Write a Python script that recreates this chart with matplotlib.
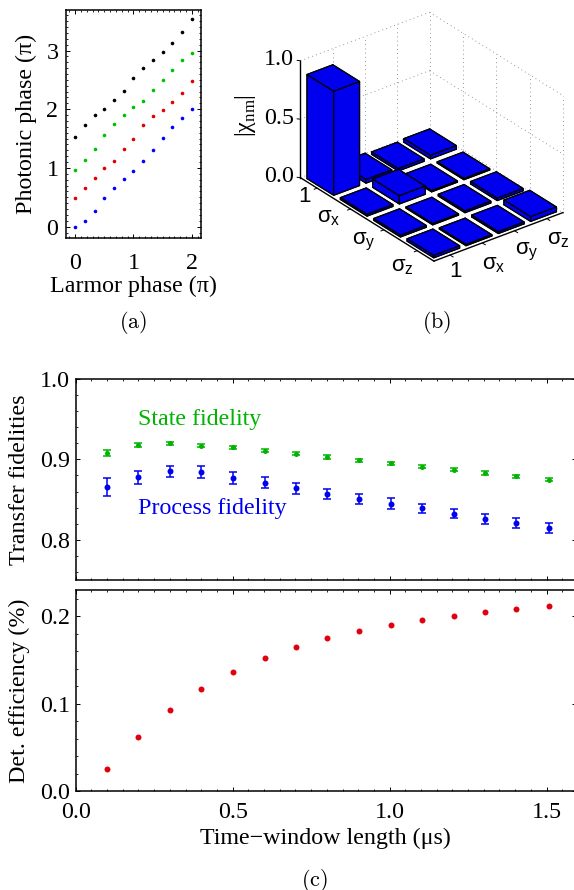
#!/usr/bin/env python3
"""Three-part figure: phase scan (a), process matrix bars (b), fidelity and efficiency vs time window (c)."""

import matplotlib
matplotlib.use('Agg')
import matplotlib.pyplot as plt
from matplotlib.ticker import MultipleLocator, FormatStrFormatter

plt.rcParams['font.family'] = ['Liberation Serif', 'DejaVu Sans']
plt.rcParams['mathtext.fontset'] = 'custom'
plt.rcParams['mathtext.rm'] = 'Liberation Serif'
plt.rcParams['mathtext.sf'] = 'Liberation Sans'

W, H = 574, 890
FS = 17.3
X_MAX = 1.5938   # right spine sits just past the image edge

# --- Panel (a) ---
larmor = [0, 1/6, 2/6, 3/6, 4/6, 5/6, 1, 7/6, 8/6, 9/6, 10/6, 11/6, 2]
phase_blue = [0, .10, .27, .49, .66, .81, .955, 1.12, 1.30, 1.505, 1.705, 1.85, 2.0]
phase_red = [.48, .66, .835, 1.0, 1.125, 1.32, 1.495, 1.73, 1.88, 1.995, 2.115, 2.285, 2.48]
phase_green = [.965, 1.13, 1.32, 1.555, 1.745, 1.91, 2.03, 2.14, 2.32, 2.505, 2.665, 2.84, 2.965]
phase_black = [1.53, 1.735, 1.905, 2.005, 2.16, 2.31, 2.535, 2.70, 2.835, 2.97, 3.12, 3.31, 3.53]

# --- Panel (b) ---
chi_labels = ['1', 'σ$_{\\mathsf{x}}$', 'σ$_{\\mathsf{y}}$', 'σ$_{\\mathsf{z}}$']
chi = [[.89, .03, .02, .03],
       [.015, .07, .01, .01],
       [.015, .01, .015, .02],
       [.02, .01, .015, .04]]

# --- Panel (c) ---
window = [.1, .2, .3, .4, .502, .602, .702, .802, .902, 1.004, 1.104, 1.204, 1.304, 1.404, 1.507]
state_fid = [.908, .918, .920, .917, .915, .911, .907, .903, .899, .895, .891, .887, .883, .879, .875]
state_err = [.004, .0025, .002, .002, .002, .002, .002, .002, .002, .002, .002, .002, .002, .002, .002]
process_fid = [.8655, .8775, .885, .884, .877, .871, .864, .857, .851, .845, .839, .8325, .826, .821, .815]
process_err = [.011, .008, .0073, .0073, .007, .007, .007, .0066, .0065, .0065, .006, .006, .006, .006, .006]
det_eff = [.0248, .0621, .093, .117, .1364, .152, .1646, .1749, .1829, .1897, .1958, .2004, .2046, .2084, .2114]

GREEN = '#00b400'
BLUE = '#0000f0'
RED = '#e0000f'


def px_axes(fig, left, top, right, bottom, **kw):
    """Add axes from pixel edges measured from the top left of the image."""
    return fig.add_axes([left / W, 1 - bottom / H, (right - left) / W, (bottom - top) / H], **kw)


def style_frame(ax, xmaj, xmin, ymaj, ymin, fmt_x, fmt_y):
    for s in ax.spines.values():
        s.set_linewidth(1.1)
    ax.xaxis.set_major_locator(MultipleLocator(xmaj))
    ax.xaxis.set_minor_locator(MultipleLocator(xmin))
    ax.yaxis.set_major_locator(MultipleLocator(ymaj))
    ax.yaxis.set_minor_locator(MultipleLocator(ymin))
    ax.xaxis.set_major_formatter(FormatStrFormatter(fmt_x))
    ax.yaxis.set_major_formatter(FormatStrFormatter(fmt_y))
    ax.tick_params(which='major', direction='in', top=True, right=True, length=3.2, width=0.7,
                   labelsize=FS, pad=4)
    ax.tick_params(which='minor', direction='in', top=True, right=True, length=1.6, width=0.6)


def draw_phase(fig):
    ax = px_axes(fig, 66, 10, 200.7, 238.3)
    for vals, col in [(phase_blue, '#0000ff'), (phase_red, '#e00000'),
                      (phase_green, '#00c000'), (phase_black, 'black')]:
        ax.plot(larmor, vals, 'o', color=col, ms=2.6, mew=0, clip_on=False)
    ax.set_xlim(-0.154, 2.149)
    ax.set_ylim(-0.198, 3.69)
    style_frame(ax, 1, 0.1, 1, 0.1, '%d', '%d')
    ax.tick_params(axis='x', which='major', pad=10.5)
    ax.tick_params(axis='y', which='major', pad=5.5)
    ax.set_xlabel('Larmor phase (π)', fontsize=FS, va='center')
    ax.xaxis.set_label_coords(0.5, -0.209)
    ax.set_ylabel('Photonic phase (π)', fontsize=FS, va='center')
    ax.yaxis.set_label_coords(-0.297, 0.5)


def draw_bars(fig):
    ax = px_axes(fig, 255.4, -19, 599.4, 301, projection='3d',
                 proj_type='ortho', computed_zorder=False)
    ax.view_init(elev=29, azim=-37.8)
    ax.set_box_aspect((214, 160.6, 131.4), zoom=0.92)
    ax.set_axis_off()
    ax.patch.set_alpha(0)
    ax.set_xlim(0, 4)
    ax.set_ylim(0, 4)
    ax.set_zlim(0, 1)

    dot = dict(color='#777777', lw=0.6, ls=(0, (1, 4)), zorder=1)
    for z in (0, 0.5, 1):
        ax.plot([0, 0], [0, 4], [z, z], **dot)
        ax.plot([0, 4], [4, 4], [z, z], **dot)
    for k in range(1, 5):
        ax.plot([0, 0], [k, k], [0, 1], **dot)
        ax.plot([k, k], [4, 4], [0, 1], **dot)

    axis_line = dict(color='black', lw=1.0, zorder=2)
    ax.plot([0, 4], [0, 0], [0, 0], **axis_line)
    ax.plot([4, 4], [0, 4], [0, 0], **axis_line)
    ax.plot([0, 0], [0, 0], [0, 1], **axis_line)
    for k in range(4):
        ax.plot([k + .5, k + .5], [0, -0.09], [0, 0], color='black', lw=0.7, zorder=2)
        ax.plot([4, 4.09], [k + .5, k + .5], [0, 0], color='black', lw=0.7, zorder=2)
    for z in (0, 0.5, 1):
        ax.plot([0, -0.05], [0, -0.05], [z, z], color='black', lw=0.7, zorder=2)
        ax.text(-0.1, -0.1, z, '%.1f' % z, fontsize=FS, ha='right', va='center', zorder=30)

    # far bars first so that the near ones cover them
    order = sorted(((i, j) for i in range(4) for j in range(4)), key=lambda c: c[0] - c[1])
    for n, (i, j) in enumerate(order):
        ax.bar3d(i + 0.1, j + 0.1, 0, 0.8, 0.8, chi[i][j], color='#0000ee', shade=False,
                 edgecolor='black', linewidth=0.9, zorder=3 + n)

    sans = ['Liberation Sans', 'DejaVu Sans']
    left_pos = [(.615, -.5), (1.51, -.67), (2.65, -.76), (3.79, -.77)]
    right_pos = [(4.56, .08), (4.77, 1.07), (4.78, 2.06), (4.75, 3.07)]
    for lab, p, q in zip(chi_labels, left_pos, right_pos):
        ax.text(p[0], p[1], 0, lab, fontsize=16, ha='center', va='center', family=sans, zorder=30)
        ax.text(q[0], q[1], 0, lab, fontsize=16, ha='center', va='center', family=sans, zorder=30)
    fig.text(246 / W, 1 - 116 / H, r'|χ$_{\mathrm{nm}}$|', fontsize=FS, rotation=90,
             ha='center', va='center')


def draw_fidelity(fig):
    ax = px_axes(fig, 75.7, 379, 576, 580)
    ax.errorbar(window, state_fid, yerr=state_err, fmt='none', ecolor=GREEN,
                elinewidth=1.1, capsize=2.9, capthick=1.1)
    ax.plot(window, state_fid, 'o', color=GREEN, ms=3.6, mew=0)
    ax.errorbar(window, process_fid, yerr=process_err, fmt='none', ecolor=BLUE,
                elinewidth=1.1, capsize=3.1, capthick=1.1)
    ax.plot(window, process_fid, 'o', color=BLUE, ms=4.3, mew=0)
    ax.set_xlim(0, X_MAX)
    ax.set_ylim(0.75, 1.0)
    style_frame(ax, 0.5, 0.05, 0.1, 0.02, '%.1f', '%.1f')
    ax.tick_params(axis='x', which='both', labelbottom=False)
    ax.set_ylabel('Transfer fidelities', fontsize=FS, va='center')
    ax.yaxis.set_label_coords(-0.113, 0.5)
    ax.text(0.2, 0.9495, 'State fidelity', color=GREEN, fontsize=FS, ha='left', va='center')
    ax.text(0.2, 0.8393, 'Process fidelity', color=BLUE, fontsize=FS, ha='left', va='center')


def draw_efficiency(fig):
    ax = px_axes(fig, 75.7, 590, 576, 791)
    ax.plot(window, det_eff, 'o', color=RED, ms=4.3, mew=0)
    ax.set_xlim(0, X_MAX)
    ax.set_ylim(0, 0.23)
    style_frame(ax, 0.5, 0.05, 0.1, 0.02, '%.1f', '%.1f')
    ax.tick_params(axis='x', which='major', pad=7.6)
    ax.set_xlabel('Time\u2212window length (μs)', fontsize=FS, va='center')
    ax.xaxis.set_label_coords(0.5, -0.234)
    ax.set_ylabel('Det. efficiency (%)', fontsize=FS, va='center')
    ax.yaxis.set_label_coords(-0.113, 0.5)


def main():
    fig = plt.figure(figsize=(W / 100, H / 100), dpi=100)
    draw_phase(fig)
    draw_bars(fig)
    draw_fidelity(fig)
    draw_efficiency(fig)
    for x, y, s in [(133, 323, '(a)'), (437, 323, '(b)'), (314, 880, '(c)')]:
        fig.text(x / W, 1 - y / H, '$\\mathrm{%s}$' % s, fontsize=16, math_fontfamily='cm',
                 ha='center', va='center')
    fig.savefig('out.png', dpi=100)
    plt.close(fig)


if __name__ == '__main__':
    main()
